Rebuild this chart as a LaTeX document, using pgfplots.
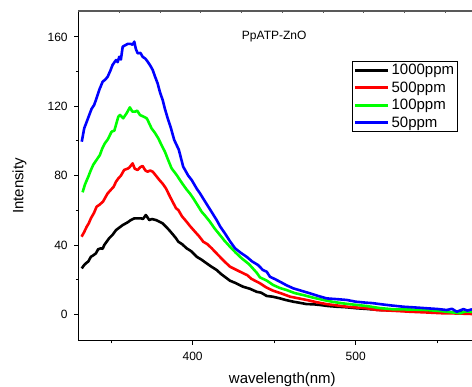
\documentclass[border=0pt]{standalone}
\usepackage{fontspec}
\setmainfont{Liberation Sans}
\usepackage{pgfplots}
\pgfplotsset{compat=1.18}
\begin{document}
\begin{tikzpicture}[x=1pt,y=1pt]
\pgfplotsset{
  common/.style={
    at={(78.5pt,46.3pt)}, anchor=south west,
    scale only axis, width=393.5pt, height=329.7pt,
    xmin=330, xmax=571.3, ymin=-15.2, ymax=175,
  }
}
\begin{axis}[common,
  axis x line*=bottom, axis y line*=left,
  axis line style={-, black, line width=1pt},
  xtick pos=bottom, ytick pos=left,
  xtick={400,500}, minor xtick={350,450,550},
  ytick={0,40,80,120,160}, minor ytick={20,60,100,140},
  tick align=outside,
  major tick length=4.3pt, minor tick length=2.7pt,
  every tick/.style={black, line width=1pt},
  tick label style={font=\fontsize{12}{12}\selectfont},
  /pgf/number format/assume math mode=true,
  yticklabel style={xshift=-3pt},
  xticklabel style={yshift=-3.3pt},
  xlabel={wavelength(nm)},
  ylabel={Intensity},
  label style={font=\fontsize{15}{15}\selectfont},
  xlabel style={at={(axis description cs:0.518,-0.119)}, anchor=center},
  ylabel style={at={(axis description cs:-0.15,0.469)}, anchor=center, rotate=0},
  legend cell align=left,
  legend style={at={(axis description cs:0.696,0.849)}, anchor=north west,
    font=\fontsize{15}{15}\selectfont, draw=black, line width=0.8pt,
    inner sep=1pt, row sep=1.5pt},
  legend image code/.code={\draw[#1, line width=2.8pt] (0pt,0pt) -- (33pt,0pt);},
  every axis plot/.append style={line width=2.6pt, line join=round},
]
\addplot[black] coordinates {
(332,26.5) (333.5,28.5) (334.5,29.4) (336,30.5) (337.6,33.2) (339,34) (340.7,35.2) (342,37.5) (343.7,38.1) (344.8,37.8) (345.8,40) (348.8,43.9) (351,46) (353,48.6) (355,50) (357.1,51.5) (360,53) (362.1,54.4) (364,55.3) (366.3,55.4) (368.3,55.4) (369.5,55) (371.3,57.3) (373.4,54.4) (375,55) (377.5,54.4) (379.5,53.5) (381.6,52.5) (383.5,50.7) (385.6,48.6) (387.5,46.5) (389.8,43.9) (391.2,41.9) (393.5,40.5) (396.3,38.1) (399,36.5) (402.5,33.2) (405.5,31.5) (408.6,29.4) (411.5,27.5) (414.7,25.6) (417.5,23.2) (420.9,20.8) (422.9,19.4) (426,18.2) (431,15.9) (435,14.8) (439.3,13) (442,12.5) (445.4,10.6) (449,10.2) (453.6,9.2) (457,8.3) (461.7,7.3) (466,6.6) (469.9,5.9) (474,5.8) (478.1,5.4) (483,4.8) (488.3,4.4) (494,4.1) (500.6,3.5) (507,3.1) (514.9,2.5) (522,2.3) (529.2,2.1) (537,1.8) (545.7,1.5) (553,1.4) (562,0.9) (566,1.2) (571.3,0.8)
};
\addlegendentry{1000ppm}
\addplot[red] coordinates {
(331.9,44.8) (333.5,47.5) (335,50.5) (336.3,52.5) (337.6,55.4) (339.5,58.5) (341.1,62.1) (342.7,63.1) (345,65) (346.5,67.5) (347.9,69.8) (350,72) (351.5,73.5) (353,76.5) (354.5,78.5) (356,80) (358,83.3) (360,84) (361,84.5) (363.2,87.1) (364.5,84) (366.3,83.3) (368,85) (369.3,85.6) (371,83) (372.4,82.3) (374,83) (375.5,82.3) (377.5,80) (379.6,77.5) (381.5,75.5) (383.6,72.7) (386.1,67.9) (387.7,65) (389.8,61.2) (391.2,60.2) (393.5,56.5) (396.3,53.4) (398.5,50.8) (401.4,47.7) (404,45) (406.5,41.9) (409,40.5) (411.7,38.1) (414,35.8) (416.7,33.2) (419.5,30.5) (422.9,27.5) (426.5,25.8) (431,23.7) (433.5,22.6) (436,20.5) (441.3,17.9) (445,15.6) (449.4,13.6) (454,12.2) (459.7,10.2) (464.5,9.3) (469.9,8.3) (476,7) (482.2,5.9) (488,5.2) (494.5,4.4) (500,4) (506.7,3.5) (512.9,2.5) (522,2.1) (533.3,1.5) (543,1.1) (553.7,0.6) (562,0.5) (571.3,0.2)
};
\addlegendentry{500ppm}
\addplot[green] coordinates {
(332.5,70.4) (334,75) (336,79.4) (337.5,83) (339,86.2) (341,89) (343.1,91.9) (344.5,95.5) (346.2,98.7) (348,101) (350.3,105.4) (352,106) (354.4,114) (355.5,115) (357.4,113.1) (359.5,116) (361.5,119.4) (363,117) (364.6,116.9) (366,117.5) (367.7,115) (370,114) (371.8,113.1) (372.4,112.1) (374.8,107.3) (377,104.5) (378.9,101.6) (381,97.5) (383,93.8) (385,89) (387.1,84.2) (390.2,80.4) (392.2,77.5) (394,75) (396.3,72) (398.5,69.5) (400.4,66.9) (403,63) (405.5,59.2) (408,56.5) (410.6,53.4) (413.5,49.5) (416.7,45.8) (419.5,42.5) (422.9,39) (426.5,35.5) (430.1,32.3) (434.5,29) (439.3,24) (441.3,21.3) (445.4,19.5) (449.4,16.9) (453.5,15.2) (457.7,14) (462.5,12.3) (467.9,11.1) (474,9.6) (480.1,8.3) (486,7.2) (492.4,6.3) (499,5.6) (506.7,4.8) (515,3.6) (523.1,2.9) (533,2.8) (543.6,2.5) (553,1.8) (564,0.6) (567,1.6) (571.3,1.5)
};
\addlegendentry{100ppm}
\addplot[blue] coordinates {
(332,99.6) (333.5,107.3) (335,111) (336.6,115) (338,118.5) (339.6,120.8) (341,124.5) (342.7,129.4) (344.8,134.2) (346.5,135.5) (347.9,137.1) (349.5,140.5) (350.9,143.9) (353,146.7) (354,145.5) (355,148.6) (356,147) (357.1,154.4) (360.1,156) (362.1,156) (363.2,155.5) (364.2,157.3) (365.2,153) (366.3,150.6) (368,150.8) (369.3,148.6) (371,147.5) (372.4,145.8) (374,143.5) (375.5,141) (377,137) (378.5,133.3) (380,128) (381.6,123.7) (383,118.5) (384.7,113.1) (386.5,108) (388.7,100.6) (391.5,95) (394.2,85.2) (397.3,80) (399.4,77.5) (402.5,72.5) (404.5,69.8) (407,66) (409.6,62.1) (412,58.5) (414.7,54.4) (417,50.5) (419.8,46.7) (423,42) (426,38.1) (429.5,35.5) (433.1,33.2) (436.5,30.5) (440.2,28.4) (443,25.6) (445.4,24.6) (447.4,21.7) (450.5,20.3) (453.6,18.8) (457.5,16.8) (461.7,15) (467,13.5) (472,12.1) (477,10.6) (482.2,9.2) (488,8.8) (494.5,8.3) (500,7.3) (506.7,6.7) (510,6.5) (514.9,5.9) (521,5.2) (529.2,4.4) (536,4) (543.6,3.5) (550,3.1) (555.8,2.5) (559,3.2) (562,1.5) (566,3) (568.5,2.2) (571.3,2.9)
};
\addlegendentry{50ppm}
\node[font=\fontsize{12}{12}\selectfont] at (axis cs:450,160) {PpATP-ZnO};
\end{axis}
\begin{axis}[common,
  axis x line*=top, axis y line=none,
  axis line style={-, black!65, line width=1.4pt},
  xtick pos=top,
  xtick={355,380,...,555}, xticklabels={},
  tick align=inside, major tick length=2pt,
  every tick/.style={black!65, line width=0.8pt},
  ytick=\empty,
]
\addplot[draw=none] coordinates {(400,0)};
\end{axis}
\pgfresetboundingbox
\useasboundingbox (0,0) rectangle (472,387);
\end{tikzpicture}
\end{document}
